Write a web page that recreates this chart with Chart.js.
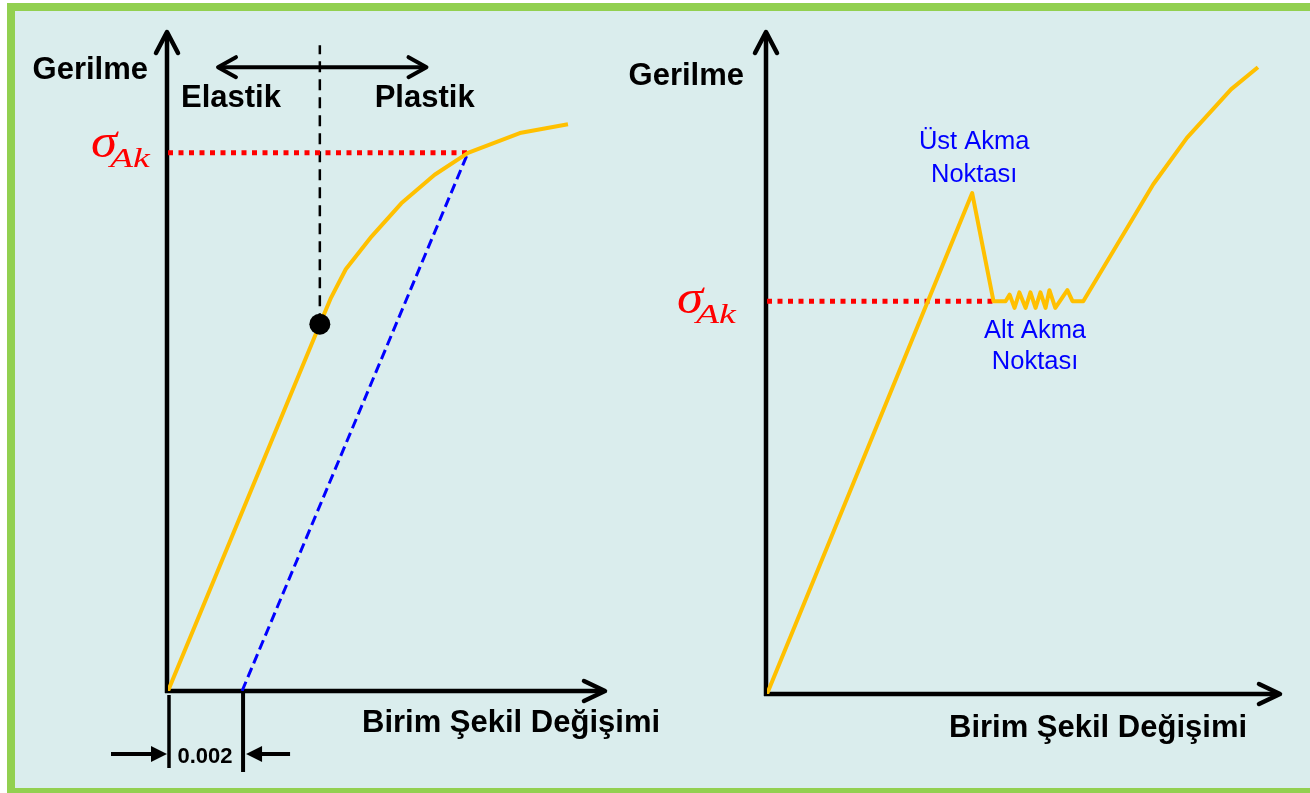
<!DOCTYPE html>
<html>
<head>
<meta charset="utf-8">
<script src="https://cdn.jsdelivr.net/npm/chart.js@4/dist/chart.umd.min.js"></script>
<style>
    html, body { margin: 0; padding: 0; background: #ffffff; width: 1310px; height: 793px; overflow: hidden; }
    #cerceve { position: absolute; left: 7px; top: 3px; width: 1303px; height: 790px; background: #92d050; }
    #zemin { position: absolute; left: 15px; top: 11px; width: 1295px; height: 777px; background: #daeded; }
    canvas { position: absolute; top: 0; }
    #grafikSol { left: 0; }
    #grafikSag { left: 590px; }
</style>
</head>
<body>
<div id="cerceve"></div>
<div id="zemin"></div>
<canvas id="grafikSol" width="720" height="793"></canvas>
<canvas id="grafikSag" width="720" height="793"></canvas>
<script>
// Sol grafik: belirgin akma noktası olmayan malzeme (0.002 ofset yöntemi)
const solBirimSekil = [0, 0.0041, 0.0044, 0.0048, 0.0055, 0.0063, 0.0072, 0.0081, 0.0095, 0.0108];
const solGerilme = [0, 167, 179, 192, 207, 222, 235, 245, 254, 258];
const ofset = 0.002;
const solAkmaBirimSekil = 0.0081;
const solAkmaGerilme = 245;
const elastikSinir = { x: 0.0041, y: 167 };
const ayracUst = 294;          // kesikli dikey çizginin bittiği gerilme
const bolgeOku = { x1: 0.00135, x2: 0.00698, y: 284 };

// Sağ grafik: üst ve alt akma noktası olan malzeme
const sagBirimSekil = [0, 0.0800, 0.0883, 0.0930, 0.0946, 0.0965, 0.0984, 0.1008, 0.1027, 0.1047,
    0.1066, 0.1086, 0.1101, 0.1124, 0.1171, 0.1191, 0.1233, 0.1506, 0.1637, 0.1809, 0.1914];
const sagGerilme = [0, 227, 178, 178, 181, 175, 182, 175, 182, 175,
    182, 175, 183, 175, 183, 178, 178, 231, 252, 274, 284];
const sagAkmaBirimSekil = 0.0883;
const sagAkmaGerilme = 178;

const eksenYazisi = 'Birim Şekil Değişimi';
const gerilmeYazisi = 'Gerilme';

const TURUNCU = '#ffc000';
const KALIN = 'bold 31px "Liberation Sans", Arial, sans-serif';

function noktalar(xs, ys) {
    return xs.map((x, i) => ({ x: x, y: ys[i] }));
}

function cizgi(ctx, x1, y1, x2, y2) {
    ctx.beginPath();
    ctx.moveTo(x1, y1);
    ctx.lineTo(x2, y2);
    ctx.stroke();
}

// açık uçlu ok başı (tip noktası + iki kanat)
function okBasi(ctx, tx, ty, ax, ay, bx, by) {
    ctx.save();
    ctx.lineCap = 'round';
    ctx.lineJoin = 'round';
    ctx.beginPath();
    ctx.moveTo(ax, ay);
    ctx.lineTo(tx, ty);
    ctx.lineTo(bx, by);
    ctx.stroke();
    ctx.restore();
}

// dolu üçgen ok başı
function doluOk(ctx, tx, ty, yon) {
    ctx.beginPath();
    ctx.moveTo(tx, ty);
    ctx.lineTo(tx - yon * 16, ty - 8);
    ctx.lineTo(tx - yon * 16, ty + 8);
    ctx.closePath();
    ctx.fill();
}

function yazi(ctx, metin, x, y, font, renk, hiza, genislik) {
    ctx.save();
    ctx.font = font;
    ctx.fillStyle = renk;
    ctx.textAlign = hiza || 'left';
    ctx.textBaseline = 'alphabetic';
    ctx.translate(x, y);
    ctx.scale(genislik || 1, 1);
    ctx.fillText(metin, 0, 0);
    ctx.restore();
}

function sigmaAk(ctx, x, y) {
    yazi(ctx, 'σ', x, y, 'italic 48px "Liberation Serif", serif', '#ff0000', 'left', 1.1);
    yazi(ctx, 'Ak', x + 19, y + 10, 'italic 28px "Liberation Serif", serif', '#ff0000', 'left', 1.35);
}

function eksenler(chart, ctx) {
    const a = chart.chartArea;
    const x0 = chart.scales.x.getPixelForValue(0) - 1;
    const y0 = chart.scales.y.getPixelForValue(0);
    ctx.strokeStyle = '#000';
    ctx.lineWidth = 4.5;
    cizgi(ctx, x0, y0 + 2, x0, a.top + 2);
    okBasi(ctx, x0, a.top, x0 - 11, a.top + 21, x0 + 11, a.top + 21);
    cizgi(ctx, x0 - 2, y0, a.right - 2, y0);
    okBasi(ctx, a.right, y0, a.right - 21, y0 - 10, a.right - 21, y0 + 10);
    return { x0: x0, y0: y0 };
}

const solEklenti = {
    id: 'solCizimler',
    beforeDatasetsDraw(chart) {
        const ctx = chart.ctx;
        const { x, y } = chart.scales;
        ctx.save();
        const o = eksenler(chart, ctx);

        // Elastik / Plastik çift yönlü ok
        const oy = y.getPixelForValue(bolgeOku.y);
        const ox1 = x.getPixelForValue(bolgeOku.x1), ox2 = x.getPixelForValue(bolgeOku.x2);
        ctx.lineWidth = 4;
        cizgi(ctx, ox1 + 2, oy, ox2 - 2, oy);
        okBasi(ctx, ox1, oy, ox1 + 18, oy - 10, ox1 + 18, oy + 10);
        okBasi(ctx, ox2, oy, ox2 - 18, oy - 10, ox2 - 18, oy + 10);

        // 0.002 ölçü çizgileri
        const xa = o.x0 + 2, xb = x.getPixelForValue(ofset) + 1;
        const my = o.y0 + 63;
        ctx.lineWidth = 3.5;
        cizgi(ctx, xa, o.y0 + 4, xa, o.y0 + 77);
        ctx.lineWidth = 4;
        cizgi(ctx, xb, o.y0 + 2, xb, o.y0 + 81);
        cizgi(ctx, xa - 58, my, xa - 14, my);
        cizgi(ctx, xb + 14, my, xb + 47, my);
        ctx.fillStyle = '#000';
        doluOk(ctx, xa - 2, my, 1);
        doluOk(ctx, xb + 3, my, -1);
        ctx.restore();
    },
    afterDatasetsDraw(chart) {
        const ctx = chart.ctx;
        const a = chart.chartArea;
        const { x, y } = chart.scales;
        const y0 = y.getPixelForValue(0);
        yazi(ctx, gerilmeYazisi, a.left - 20, a.top + 47, KALIN, '#000', 'right');
        yazi(ctx, 'Elastik', x.getPixelForValue(0.0017), y.getPixelForValue(270) + 9, KALIN, '#000', 'center');
        yazi(ctx, 'Plastik', x.getPixelForValue(0.00693), y.getPixelForValue(270) + 9, KALIN, '#000', 'center');
        sigmaAk(ctx, a.left - 77, y.getPixelForValue(solAkmaGerilme) + 4);
        yazi(ctx, eksenYazisi, a.left + 194, y0 + 41, KALIN, '#000');
        yazi(ctx, ofset.toFixed(3), (x.getPixelForValue(0) + x.getPixelForValue(ofset)) / 2, y0 + 72,
            'bold 22px "Liberation Sans", Arial, sans-serif', '#000', 'center');
    }
};

const sagEklenti = {
    id: 'sagCizimler',
    beforeDatasetsDraw(chart) {
        const ctx = chart.ctx;
        ctx.save();
        eksenler(chart, ctx);
        ctx.restore();
    },
    afterDatasetsDraw(chart) {
        const ctx = chart.ctx;
        const a = chart.chartArea;
        const { x, y } = chart.scales;
        const y0 = y.getPixelForValue(0);
        const mavi = '25.5px "Liberation Sans", Arial, sans-serif';
        yazi(ctx, gerilmeYazisi, a.left - 23, a.top + 53, KALIN, '#000', 'right');
        sigmaAk(ctx, a.left - 90, y.getPixelForValue(sagAkmaGerilme) + 12);
        const ux = x.getPixelForValue(sagBirimSekil[1]) + 2;
        const uy = y.getPixelForValue(sagGerilme[1]);
        yazi(ctx, 'Üst Akma', ux, uy - 44, mavi, '#0000ff', 'center');
        yazi(ctx, 'Noktası', ux, uy - 11, mavi, '#0000ff', 'center');
        const ax = x.getPixelForValue(0.1045);
        const ay = y.getPixelForValue(sagAkmaGerilme);
        yazi(ctx, 'Alt Akma', ax, ay + 37, mavi, '#0000ff', 'center');
        yazi(ctx, 'Noktası', ax, ay + 68, mavi, '#0000ff', 'center');
        yazi(ctx, eksenYazisi, a.left + 182, y0 + 43, KALIN, '#000');
    }
};

function ortakAyarlar(xMax, yMax, dolgu) {
    return {
        responsive: false,
        animation: false,
        events: [],
        layout: { padding: dolgu },
        scales: {
            x: { type: 'linear', min: 0, max: xMax, display: false },
            y: { type: 'linear', min: 0, max: yMax, display: false }
        },
        plugins: {
            legend: { display: false },
            tooltip: { enabled: false }
        }
    };
}

new Chart(document.getElementById('grafikSol').getContext('2d'), {
    type: 'scatter',
    data: {
        datasets: [
            {
                // elastik sınır noktası
                data: [elastikSinir],
                pointRadius: 10.5,
                pointBackgroundColor: '#000',
                pointBorderWidth: 0
            },
            {
                data: noktalar(solBirimSekil, solGerilme),
                showLine: true,
                borderColor: TURUNCU,
                borderWidth: 4,
                borderJoinStyle: 'round',
                pointRadius: 0
            },
            {
                // 0.002 ofset doğrusu
                data: [{ x: ofset, y: 0 }, { x: solAkmaBirimSekil, y: solAkmaGerilme }],
                showLine: true,
                borderColor: '#0000ff',
                borderWidth: 3,
                borderDash: [10, 5],
                pointRadius: 0
            },
            {
                data: [{ x: 0, y: solAkmaGerilme }, { x: solAkmaBirimSekil, y: solAkmaGerilme }],
                showLine: true,
                borderColor: '#ff0000',
                borderWidth: 5,
                borderDash: [5, 5.5],
                pointRadius: 0
            },
            {
                data: [{ x: elastikSinir.x, y: elastikSinir.y }, { x: elastikSinir.x, y: ayracUst }],
                showLine: true,
                borderColor: '#000',
                borderWidth: 2.5,
                borderDash: [11, 7],
                pointRadius: 0
            }
        ]
    },
    options: ortakAyarlar(0.0118, 300, { left: 168, right: 115, top: 32, bottom: 102 }),
    plugins: [solEklenti]
});

new Chart(document.getElementById('grafikSag').getContext('2d'), {
    type: 'scatter',
    data: {
        datasets: [
            {
                data: noktalar(sagBirimSekil, sagGerilme),
                showLine: true,
                borderColor: TURUNCU,
                borderWidth: 4,
                borderJoinStyle: 'round',
                pointRadius: 0
            },
            {
                data: [{ x: 0, y: sagAkmaGerilme }, { x: sagAkmaBirimSekil, y: sagAkmaGerilme }],
                showLine: true,
                borderColor: '#ff0000',
                borderWidth: 5,
                borderDash: [5, 5.5],
                pointRadius: 0
            }
        ]
    },
    options: ortakAyarlar(0.2, 300, { left: 177, right: 30, top: 32, bottom: 99 }),
    plugins: [sagEklenti]
});
</script>
</body>
</html>
